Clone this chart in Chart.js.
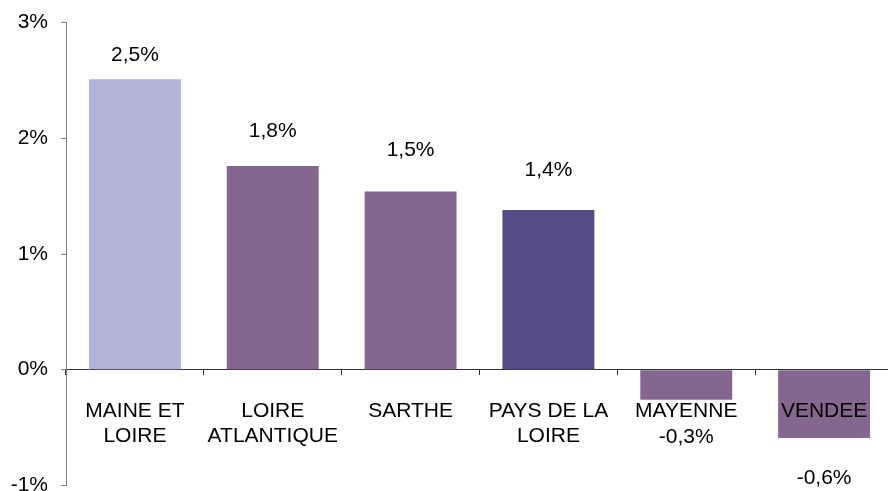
<!DOCTYPE html>
<html>
<head>
<meta charset="utf-8">
<script src="https://cdn.jsdelivr.net/npm/chart.js@4.4.1/dist/chart.umd.min.js"></script>
<style>
  html, body { margin: 0; padding: 0; overflow: hidden; background: #fff; width: 888px; height: 491px; }
  #wrap { position: absolute; left: 0; top: -3px; width: 893px; height: 514px; }
</style>
</head>
<body>
<div id="wrap"><canvas id="c"></canvas></div>
<script>
const categories = [["MAINE ET", "LOIRE"], ["LOIRE", "ATLANTIQUE"], "SARTHE", ["PAYS DE LA", "LOIRE"], "MAYENNE", "VENDEE"];
const values = [2.51, 1.76, 1.54, 1.38, -0.26, -0.59];
const barColors = ["#B0B4D9", "#84678F", "#84678F", "#534C86", "#84678F", "#84678F"];
const yTicks = [-1, 0, 1, 2, 3];

const FONT = "'Liberation Sans', Arial, sans-serif";
// pixel distance between bar end and label centre (label placement, as in the source)
const labelGap = [24, 35, 41, 40, 37, 40];

const valueLabels = {
  id: 'valueLabels',
  afterDatasetsDraw(chart) {
    const ctx = chart.ctx;
    const meta = chart.getDatasetMeta(0);
    ctx.save();
    ctx.font = "21px " + FONT;
    ctx.fillStyle = "#000";
    ctx.textAlign = "center";
    ctx.textBaseline = "middle";
    meta.data.forEach((bar, i) => {
      const v = values[i];
      const txt = v.toFixed(1).replace('.', ',') + '%';
      const y = v >= 0 ? bar.y - labelGap[i] : bar.y + labelGap[i];
      ctx.fillText(txt, bar.x, y);
    });
    ctx.restore();
  }
};

new Chart(document.getElementById('c'), {
  type: 'bar',
  data: {
    labels: categories,
    datasets: [{
      data: values,
      backgroundColor: barColors,
      borderWidth: 0,
      barPercentage: 0.667,
      categoryPercentage: 1.0
    }]
  },
  options: {
    responsive: true,
    maintainAspectRatio: false,
    animation: false,
    layout: { padding: { top: 19, left: 0, right: 0, bottom: 0 } },
    plugins: { legend: { display: false }, tooltip: { enabled: false } },
    scales: {
      x: {
        position: { y: 0 },
        offset: true,
        grid: { display: true, offset: true, drawOnChartArea: false, drawTicks: true, tickLength: 5, color: '#333' },
        border: { display: true, color: '#333', width: 1 },
        ticks: { z: 1, color: '#000', font: { family: FONT, size: 21 }, padding: 24, maxRotation: 0, autoSkip: false }
      },
      y: {
        min: -1,
        max: 3,
        afterFit(scale) { scale.width = 66; },
        afterBuildTicks(scale) { scale.ticks = yTicks.map(v => ({ value: v })); },
        grid: { display: true, drawOnChartArea: false, drawTicks: true, tickLength: 5, color: '#808080' },
        border: { display: true, color: '#808080', width: 1 },
        ticks: { color: '#000', font: { family: FONT, size: 21 }, padding: 13, callback: v => v + '%' }
      }
    }
  },
  plugins: [valueLabels]
});
</script>
</body>
</html>
